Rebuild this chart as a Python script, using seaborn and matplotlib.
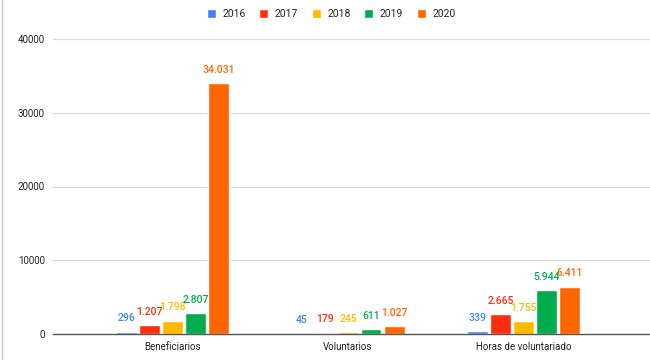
import pandas as pd
import matplotlib.pyplot as plt
import seaborn as sns
from matplotlib.lines import Line2D

# datos
categorias = ["Beneficiarios", "Voluntarios", "Horas de voluntariado"]
anios = ["2016", "2017", "2018", "2019", "2020"]
v2016 = [296, 45, 339]
v2017 = [1207, 179, 2665]
v2018 = [1798, 245, 1755]
v2019 = [2807, 611, 5944]
v2020 = [34031, 1027, 6411]
colores = ["#4285F4", "#FF2D10", "#FFBA00", "#00AD4E", "#FF6600"]

series = [v2016, v2017, v2018, v2019, v2020]
df = pd.DataFrame([
    {"categoria": c, "anio": a, "valor": s[i]}
    for a, s in zip(anios, series)
    for i, c in enumerate(categorias)
])

sns.set_style("white")
plt.rcParams["font.family"] = ["Roboto", "DejaVu Sans"]

fig = plt.figure(figsize=(6.5, 3.6), dpi=100)
ax = fig.add_axes([53 / 650, 1 - 334 / 360, 597 / 650, 295 / 360])

sns.barplot(data=df, x="categoria", y="valor", hue="anio", hue_order=anios,
            palette=colores, width=0.657, gap=0.1, saturation=1, ax=ax)

# etiquetas de valores con punto como separador de miles
for cont, col in zip(ax.containers, colores):
    labels = [f"{int(b.get_height()):,}".replace(",", ".") for b in cont]
    ax.bar_label(cont, labels=labels, padding=6, color=col, fontsize=7.5,
                 fontweight="medium")

ax.set_ylim(0, 40000)
ax.set_yticks([0, 10000, 20000, 30000, 40000])
ax.set_xlim((53 - 172) / 175, (648 - 172) / 175)
ax.grid(axis="y", color="#d9d9d9", linewidth=0.8)
ax.set_axisbelow(True)
for s in ["top", "right", "left"]:
    ax.spines[s].set_visible(False)
ax.spines["bottom"].set_color("#555555")
ax.spines["bottom"].set_linewidth(1)
ax.tick_params(axis="both", length=0, labelsize=7, colors="#222222", pad=6)
ax.set_xlabel("")
ax.set_ylabel("")

sns.move_legend(ax, "upper center", bbox_to_anchor=(331 / 650, 1.0),
                bbox_transform=fig.transFigure, ncol=5, frameon=False,
                title=None, fontsize=7.5, handlelength=0.9, handleheight=0.9,
                columnspacing=1.3, handletextpad=0.6)

fig.add_artist(Line2D([2 / 650, 2 / 650], [0, 1], transform=fig.transFigure,
                      color="#cccccc", linewidth=1))

fig.savefig("out.png", dpi=100)
